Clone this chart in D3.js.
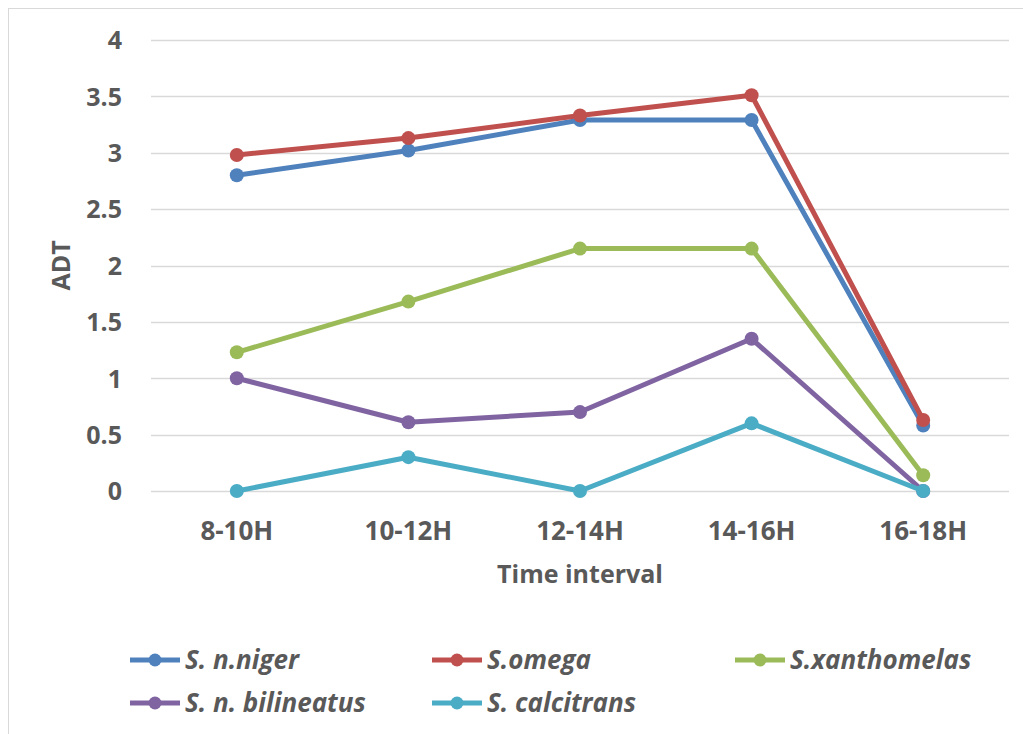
<!DOCTYPE html>
<html lang="en">
<head>
<meta charset="UTF-8">
<title>ADT by time interval</title>
<script src="https://d3js.org/d3.v7.min.js"></script>
<style>
  body { margin: 0; background: #fff; font-family: "Open Sans", "Noto Sans", sans-serif; }
  svg { display: block; }
  .tick text { fill: #595959; font-weight: bold; }
</style>
</head>
<body>
<div id="chart"></div>
<script>
// data
const intervals = ["8-10H", "10-12H", "12-14H", "14-16H", "16-18H"];
const seriesNames = ["S. n.niger", "S.omega", "S.xanthomelas", "S. n. bilineatus", "S. calcitrans"];
const nNiger      = [2.80, 3.02, 3.29, 3.29, 0.58];
const omega       = [2.98, 3.13, 3.33, 3.51, 0.63];
const xanthomelas = [1.23, 1.68, 2.15, 2.15, 0.14];
const bilineatus  = [1.00, 0.61, 0.70, 1.35, 0.00];
const calcitrans  = [0.00, 0.30, 0.00, 0.60, 0.00];
const yTicks = [0, 0.5, 1, 1.5, 2, 2.5, 3, 3.5, 4];

const colors = ["#4F81BD", "#C0504D", "#9BBB59", "#8064A2", "#4BACC6"];
const allValues = [nNiger, omega, xanthomelas, bilineatus, calcitrans];
const series = seriesNames.map((name, i) => ({ name, color: colors[i], values: allValues[i] }));

const w = 1023, h = 734;
const margin = { left: 151, right: 14, top: 40, bottom: 243 };
const fontSize = 25;

const svg = d3.select("#chart").append("svg")
  .attr("width", w).attr("height", h);

// chart frame
svg.append("rect")
  .attr("x", 8.5).attr("y", 8.5)
  .attr("width", w + 20).attr("height", h + 20)
  .attr("fill", "none").attr("stroke", "#d9d9d9").attr("stroke-width", 1);

const x = d3.scaleBand().domain(intervals)
  .range([margin.left, w - margin.right]);
const y = d3.scaleLinear().domain([0, 4])
  .range([h - margin.bottom, margin.top]);

// gridlines
svg.append("g")
  .selectAll("line")
  .data(yTicks)
  .join("line")
  .attr("x1", margin.left).attr("x2", w - margin.right)
  .attr("y1", d => Math.round(y(d)) + 0.5).attr("y2", d => Math.round(y(d)) + 0.5)
  .attr("stroke", "#d9d9d9").attr("stroke-width", 1.5);

// y axis
const yAxis = svg.append("g")
  .attr("transform", "translate(125,0)")
  .call(d3.axisLeft(y).tickValues(yTicks).tickSize(0).tickFormat(d3.format("")));
yAxis.select(".domain").remove();
yAxis.selectAll("text").attr("font-size", fontSize).attr("dy", "0.35em").attr("font-family", "Open Sans");

// x axis
const xAxis = svg.append("g")
  .attr("transform", "translate(0,540)")
  .call(d3.axisBottom(x).tickSize(0));
xAxis.select(".domain").remove();
xAxis.selectAll("text").attr("font-size", fontSize + 1).attr("y", 0).attr("dy", null).attr("font-family", "Open Sans");

// axis titles
svg.append("text")
  .attr("transform", `translate(70,${(y(0) + y(4)) / 2}) rotate(-90)`)
  .attr("text-anchor", "middle")
  .attr("fill", "#595959").attr("font-weight", "bold").attr("font-size", fontSize)
  .text("ADT");

svg.append("text")
  .attr("x", (margin.left + w - margin.right) / 2).attr("y", 583)
  .attr("text-anchor", "middle")
  .attr("fill", "#595959").attr("font-weight", "bold").attr("font-size", fontSize)
  .text("Time interval");

// lines
const line = d3.line()
  .x((d, i) => x(intervals[i]) + x.bandwidth() / 2)
  .y(d => y(d));

const sg = svg.append("g").selectAll("g")
  .data(series)
  .join("g");

sg.append("path")
  .attr("d", d => line(d.values))
  .attr("fill", "none")
  .attr("stroke", d => d.color)
  .attr("stroke-width", 5)
  .attr("stroke-linejoin", "round");

sg.selectAll("circle")
  .data(d => d.values.map(v => ({ v, color: d.color })))
  .join("circle")
  .attr("cx", (d, i) => x(intervals[i]) + x.bandwidth() / 2)
  .attr("cy", d => y(d.v))
  .attr("r", 7)
  .attr("fill", d => d.color);

// legend
const legendX = [130, 432, 735];
const legendY = [660, 703];
const lg = svg.append("g").selectAll("g")
  .data(series)
  .join("g")
  .attr("transform", (d, i) => `translate(${legendX[i % 3]},${legendY[Math.floor(i / 3)]})`);

lg.append("line")
  .attr("x1", 0).attr("x2", 50).attr("y1", 0).attr("y2", 0)
  .attr("stroke", d => d.color).attr("stroke-width", 5);
lg.append("circle")
  .attr("cx", 25).attr("cy", 0).attr("r", 6.5)
  .attr("fill", d => d.color);
lg.append("text")
  .attr("x", 55).attr("y", 0).attr("dy", "0.35em")
  .attr("fill", "#595959").attr("font-weight", "bold").attr("font-style", "italic")
  .attr("font-size", 26)
  .text(d => d.name);
</script>
</body>
</html>
